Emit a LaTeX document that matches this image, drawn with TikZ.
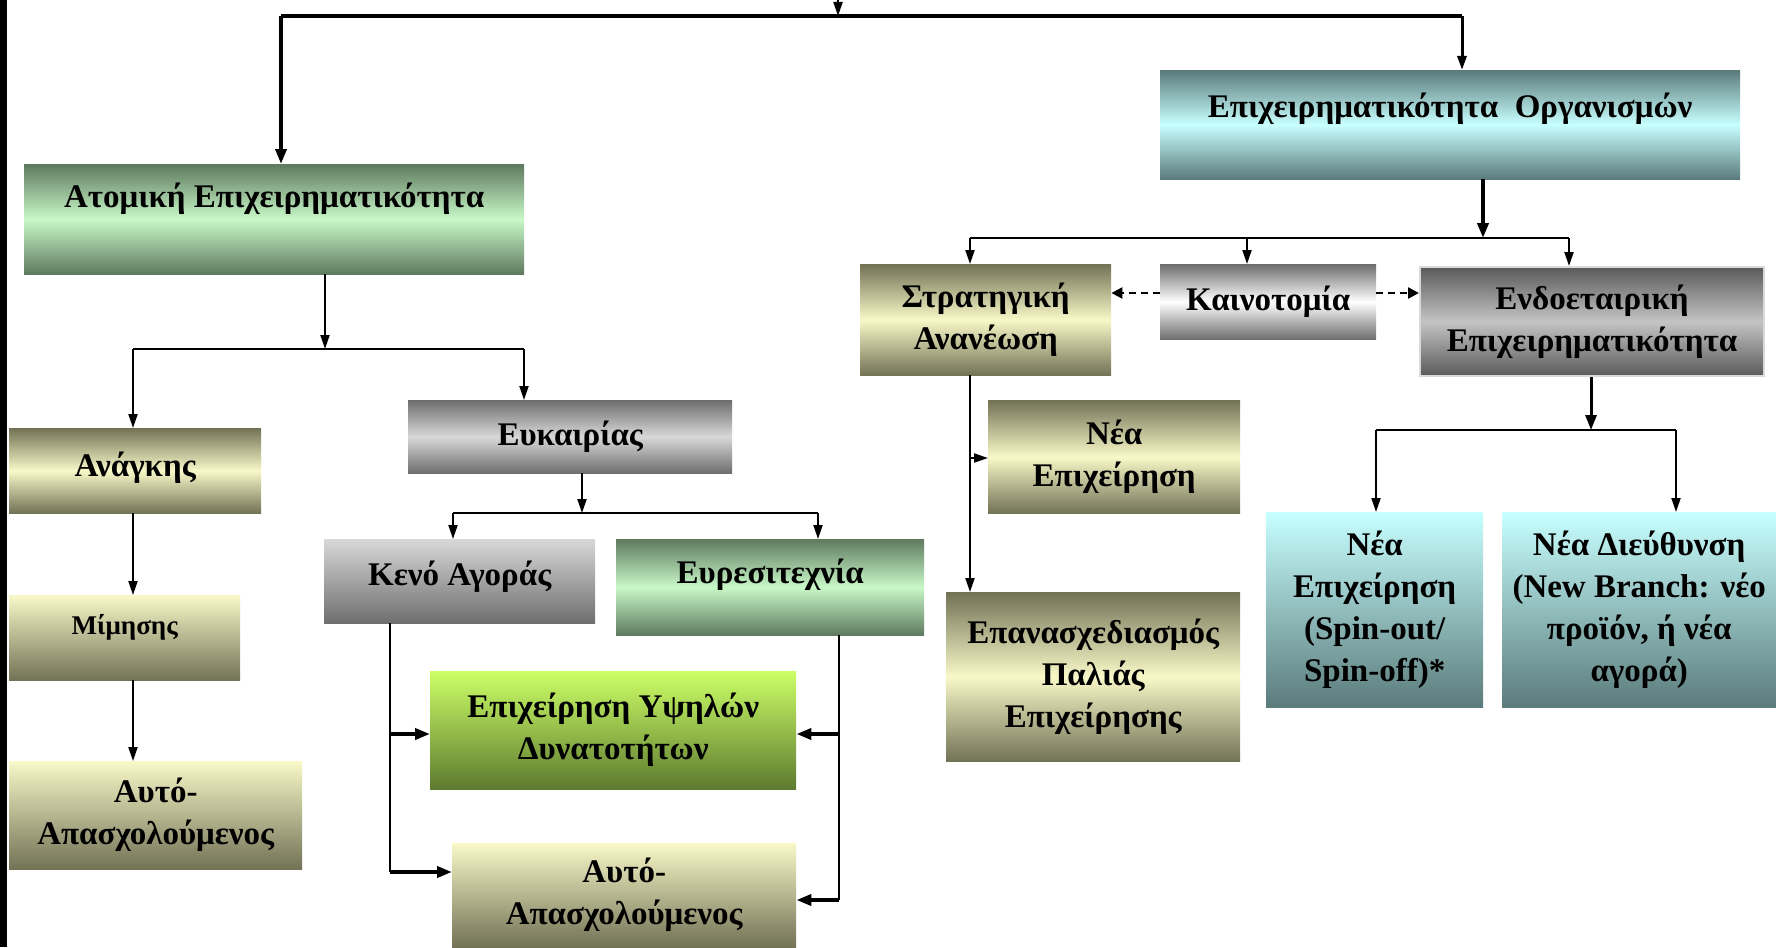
\documentclass[tikz,border=0pt]{standalone}
\usepackage{fontspec}
\setmainfont{Liberation Serif}
\usetikzlibrary{arrows.meta}
\definecolor{gdark}{HTML}{5F7A5F}
\definecolor{glight}{HTML}{C8F8C8}
\definecolor{cdark}{HTML}{5B7B7B}
\definecolor{clight}{HTML}{C8FFFF}
\definecolor{odark}{HTML}{727256}
\definecolor{olight}{HTML}{F8F8C8}
\definecolor{gydark}{HTML}{6E6E6E}
\definecolor{gylight}{HTML}{D8D8D8}
\definecolor{kdark}{HTML}{5A5A5A}
\definecolor{klight}{HTML}{C4C4C4}
\definecolor{lime}{HTML}{CCFF66}
\definecolor{limedark}{HTML}{5E7A30}
\newcommand\mkbox[7]{\node[box,#2,minimum width={(#5-#3)*1pt},minimum height={(#6-#4)*1pt}] (#1) at (#3,#4) {#7};}
\newcommand\up[2]{\raisebox{#1pt}[\height][\depth]{#2}}
\begin{document}
\begin{tikzpicture}[x=1pt,y=-1pt,
  box/.style={draw=none,inner sep=2pt,align=center,anchor=north west,
    font=\bfseries\fontsize{33}{42}\selectfont},
  gthree/.style n args={2}{top color=#1,bottom color=#1,middle color=#2},
  gtwo/.style n args={2}{top color=#1,bottom color=#2},
  arr/.style={-{Triangle[length=14pt,width=9pt]},line width=2pt},
  bigarr/.style={-{Triangle[length=15pt,width=11pt]},line width=4pt},
  thinline/.style={line width=2pt},
  thickline/.style={line width=4.5pt},
  dasharr/.style={-{Triangle[length=11pt,width=11pt]},line width=2.4pt,dashed,dash pattern=on 7pt off 5pt}
]
\useasboundingbox (0,0) rectangle (1776,947);
\fill[black] (0,0) rectangle (7,947);
% boxes
\mkbox{atomiki}{gthree={gdark}{glight}}{24}{164}{524}{274}{\up{20}{Ατομική Επιχειρηματικότητα}}
\mkbox{org}{gthree={cdark}{clight}}{1160}{70}{1740}{179}{\up{16}{Επιχειρηματικότητα\ \ Οργανισμών}}
\mkbox{anagkis}{gthree={odark}{olight}}{9}{428}{261}{513}{\up{3}{Ανάγκης}}
\mkbox{mimisis}{gtwo={olight}{odark},font=\bfseries\fontsize{27}{34}\selectfont}{9}{595}{240}{680}{\up{10}{Μίμησης}}
\mkbox{auto1}{gtwo={olight}{odark}}{9}{761}{302}{869}{Αυτό-\\Απασχολούμενος}
\mkbox{euk}{gthree={gydark}{gylight}}{408}{400}{732}{473}{Ευκαιρίας}
\mkbox{keno}{gtwo={gylight}{gydark}}{324}{539}{595}{623}{\up{4}{Κενό Αγοράς}}
\mkbox{eures}{gthree={gdark}{glight}}{616}{539}{924}{635}{\up{12}{Ευρεσιτεχνία}}
\mkbox{ypsil}{gtwo={lime}{limedark}}{430}{671}{796}{789}{Επιχείρηση Υψηλών\\Δυνατοτήτων}
\mkbox{auto2}{gtwo={olight}{odark}}{452}{843}{796}{947}{Αυτό-\\Απασχολούμενος}
\mkbox{strat}{gthree={odark}{olight}}{860}{264}{1111}{375}{Στρατηγική\\Ανανέωση}
\mkbox{kain}{gthree={gydark}{white}}{1160}{264}{1376}{339}{Καινοτομία}
\mkbox{endo}{gthree={kdark}{klight},draw=gray!30,line width=2pt}{1419}{266}{1763}{375}{Ενδοεταιρική\\Επιχειρηματικότητα}
\mkbox{neaep}{gthree={odark}{olight}}{988}{400}{1240}{513}{Νέα\\Επιχείρηση}
\mkbox{epan}{gthree={odark}{olight}}{946}{592}{1240}{761}{Επανασχεδιασμός\\Παλιάς\\Επιχείρησης}
\mkbox{spin}{gtwo={clight}{cdark}}{1266}{512}{1483}{707}{Νέα\\Επιχείρηση\\(Spin-out/\\Spin-off)*}
\mkbox{dieu}{gtwo={clight}{cdark}}{1502}{512}{1776}{707}{Νέα Διεύθυνση\\(New Branch: νέο\\προϊόν, ή νέα\\αγορά)}
% top connectors
\coordinate (tin) at (838,-4);
\coordinate (tl) at (281,16);
\coordinate (tr) at (1462,16);
\coordinate (tm) at (838,16);
\draw[arr] (tin) -- (tm);
\draw[thickline] (tl) -- (tr);
\draw[bigarr,line width=3.5pt] (tl) -- (tl |- atomiki.north);
\draw[arr,line width=3pt] (tr) -- (tr |- org.north);
% left branch
\coordinate (a1) at (325,349);
\coordinate (a1l) at (133,349);
\coordinate (a1r) at (524,349);
\draw[arr] (atomiki.south -| a1) -- (a1);
\draw[thinline] (a1l) -- (a1r);
\draw[arr] (a1l) -- (a1l |- anagkis.north);
\draw[arr] (a1r) -- (a1r |- euk.north);
\draw[arr] (anagkis.south -| a1l) -- (mimisis.north -| a1l);
\draw[arr] (mimisis.south -| a1l) -- (auto1.north -| a1l);
% eukairias branch
\coordinate (e1) at (582,513);
\coordinate (e1l) at (453,513);
\coordinate (e1r) at (818,513);
\draw[arr] (euk.south -| e1) -- (e1);
\draw[thinline] (e1l) -- (e1r);
\draw[arr] (e1l) -- (e1l |- keno.north);
\draw[arr] (e1r) -- (e1r |- eures.north);
\coordinate (k1) at (390,734);
\coordinate (k2) at (390,872);
\draw[thinline] (keno.south -| k1) -- (k2);
\draw[bigarr] (k1) -- (k1 -| ypsil.west);
\draw[bigarr] (k2) -- (k2 -| auto2.west);
\coordinate (r1) at (839,734);
\coordinate (r2) at (839,900);
\draw[thinline] (eures.south -| r1) -- (r2);
\draw[bigarr] (r1) -- (r1 -| ypsil.east);
\draw[bigarr] (r2) -- (r2 -| auto2.east);
% right branch
\coordinate (o1) at (1483,238);
\coordinate (o1l) at (970,238);
\coordinate (o1r) at (1569,238);
\coordinate (o1m) at (1247,238);
\draw[bigarr] (org.south -| o1) -- (o1);
\draw[thinline] (o1l) -- (o1r);
\draw[arr] (o1l) -- (o1l |- strat.north);
\draw[arr] (o1m) -- (o1m |- kain.north);
\draw[arr] (o1r) -- (o1r |- endo.north);
\coordinate (d1) at (1160,293);
\draw[dasharr] (kain.west |- d1) -- (strat.east |- d1);
\draw[dasharr] (kain.east |- d1) -- (endo.west |- d1);
\coordinate (s1) at (970,458);
\draw[arr] (strat.south -| s1) -- (epan.north -| s1);
\draw[arr] (s1) -- (s1 -| neaep.west);
\coordinate (n1) at (1591,430);
\coordinate (n1l) at (1376,430);
\coordinate (n1r) at (1676,430);
\draw[bigarr,line width=3pt] (endo.south -| n1) -- (n1);
\draw[thinline] (n1l) -- (n1r);
\draw[arr] (n1l) -- (n1l |- spin.north);
\draw[arr] (n1r) -- (n1r |- dieu.north);
\end{tikzpicture}
\end{document}
